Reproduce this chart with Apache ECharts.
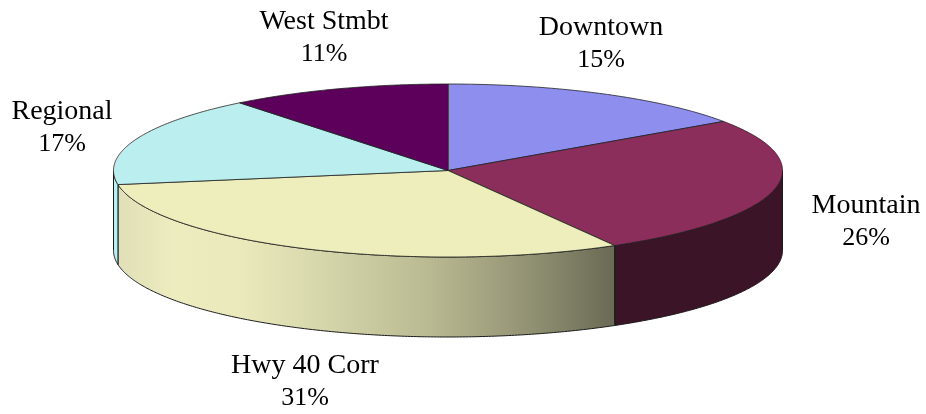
<!DOCTYPE html>
<html>
<head>
<meta charset="utf-8">
<style>html,body{margin:0;padding:0;background:#fff}#c{width:926px;height:414px}</style>
<script src="https://cdn.jsdelivr.net/npm/echarts@6/dist/echarts.min.js"></script>
</head>
<body>
<div id="c"></div>
<script>
const categories = ['Downtown', 'Mountain', 'Hwy 40 Corr', 'Regional', 'West Stmbt'];
const values = [15.4, 26.3, 30.7, 16.9, 10.7];
const topColors = ['#8e8eee', '#8b2e5c', '#eeeebc', '#bbeeee', '#5c005c'];
const wallStops = [
  [[0, '#8e8eee']],
  [[0, '#3c1428']],
  [[0, '#e0dfb6'], [0.11, '#ececbf'], [0.25, '#e9e9bb'], [0.39, '#d9d9ae'], [0.61, '#bcbc94'], [0.79, '#9a9a7a'], [1, '#6a6a55']],
  [[0, '#bbeeee']],
  [[0, '#5c005c']]
];
const labelAnchors = [[601, 44], [866, 222], [305, 382.5], [62, 128], [324, 38]];

const CX = 448, CY = 170.5, RX = 334.5, RY = 86.5, DEPTH = 80;
const total = values.reduce((a, b) => a + b, 0);
const starts = [];
values.reduce((acc, v, i) => { starts[i] = acc; return acc + v; }, 0);

function pt(deg, dy) {
  const t = deg * Math.PI / 180;
  return [CX + RX * Math.sin(t), CY - RY * Math.cos(t) + (dy || 0)];
}
function arc(a, b, dy) {
  const out = [];
  const n = Math.max(2, Math.ceil(Math.abs(b - a) * 2));
  for (let i = 0; i <= n; i++) out.push(pt(a + (b - a) * i / n, dy));
  return out;
}

const chart = echarts.init(document.getElementById('c'), null, { renderer: 'canvas' });
chart.setOption({
  animation: false,
  backgroundColor: '#ffffff',
  series: [{
    type: 'custom',
    coordinateSystem: 'none',
    silent: true,
    clip: false,
    data: values.map((v, i) => ({ name: categories[i], value: [v, i] })),
    renderItem: function (params, api) {
      const v = api.value(0), i = api.value(1);
      const a0 = starts[i] / total * 360;
      const a1 = (starts[i] + v) / total * 360;
      const children = [];
      const w0 = Math.max(a0, 90), w1 = Math.min(a1, 270);
      if (w1 > w0) {
        const stops = wallStops[i];
        const fill = stops.length === 1 ? stops[0][1] : {
          type: 'linear', global: true,
          x: pt(a1)[0], y: 0, x2: pt(a0)[0], y2: 0,
          colorStops: stops.map(s => ({ offset: s[0], color: s[1] }))
        };
        children.push({
          type: 'polygon',
          shape: { points: arc(w0, w1, 0).concat(arc(w1, w0, DEPTH)) },
          style: { fill: fill, stroke: '#1a1a1a', lineWidth: 1 }
        });
      }
      children.push({
        type: 'polygon',
        shape: { points: [[CX, CY]].concat(arc(a0, a1, 0)) },
        style: { fill: topColors[i], stroke: '#222222', lineWidth: 0.8 }
      });
      const pct = Math.round(v / total * 100);
      children.push({
        type: 'text', z2: 10,
        style: {
          text: categories[i],
          x: labelAnchors[i][0], y: labelAnchors[i][1] - 16.5,
          align: 'center', verticalAlign: 'middle',
          font: '28px "Liberation Serif"', fill: '#000000'
        }
      });
      children.push({
        type: 'text', z2: 10,
        style: {
          text: pct + '%',
          x: labelAnchors[i][0], y: labelAnchors[i][1] + 16,
          align: 'center', verticalAlign: 'middle',
          font: '26px "Liberation Serif"', fill: '#000000'
        }
      });
      return { type: 'group', children: children };
    }
  }]
});
</script>
</body>
</html>
